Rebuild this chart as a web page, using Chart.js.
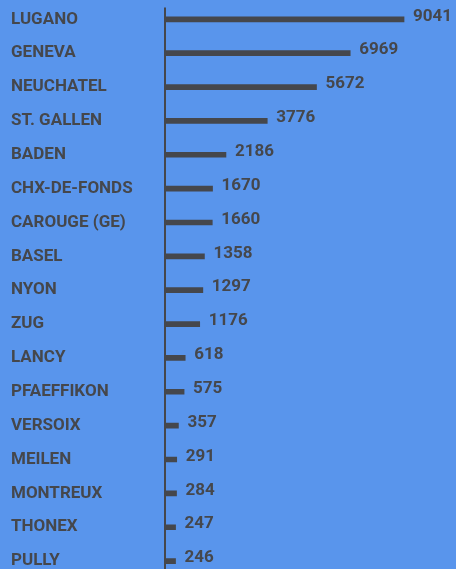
<!DOCTYPE html>
<html>
<head>
<meta charset="utf-8">
<script src="https://cdn.jsdelivr.net/npm/chart.js@4"></script>
<style>
  html, body { margin: 0; padding: 0; background: #5995EC; overflow: hidden; }
  #wrap { position: relative; width: 456px; height: 578px; }
</style>
</head>
<body>
<div id="wrap"><canvas id="c"></canvas></div>
<script>
const categories = ["LUGANO","GENEVA","NEUCHATEL","ST. GALLEN","BADEN","CHX-DE-FONDS","CAROUGE (GE)","BASEL","NYON","ZUG","LANCY","PFAEFFIKON","VERSOIX","MEILEN","MONTREUX","THONEX","PULLY"];
const values = [9041,6969,5672,3776,2186,1670,1660,1358,1297,1176,618,575,357,291,284,247,246];

const INK = '#45474c';
const FONT = 'Roboto, "Liberation Sans", sans-serif';

const axisLine = {
  id: 'axisLine',
  afterDatasetsDraw(chart) {
    const ctx = chart.ctx, a = chart.chartArea;
    ctx.save();
    ctx.strokeStyle = INK;
    ctx.lineWidth = 2;
    ctx.beginPath();
    ctx.moveTo(a.left, a.top + 5);
    ctx.lineTo(a.left, a.bottom);
    ctx.stroke();
    ctx.restore();
  }
};

const valueLabels = {
  id: 'valueLabels',
  afterDatasetsDraw(chart) {
    const ctx = chart.ctx;
    const meta = chart.getDatasetMeta(0);
    ctx.save();
    ctx.fillStyle = INK;
    ctx.font = 'bold 17px ' + FONT;
    ctx.textAlign = 'left';
    ctx.textBaseline = 'middle';
    meta.data.forEach((bar, i) => {
      ctx.fillText(String(values[i]), bar.x + 9, bar.y - 3);
    });
    ctx.restore();
  }
};

new Chart(document.getElementById('c'), {
  type: 'bar',
  data: {
    labels: categories,
    datasets: [{
      data: values,
      base: -160,
      backgroundColor: INK,
      borderWidth: 0,
      barThickness: 5
    }]
  },
  options: {
    indexAxis: 'y',
    responsive: true,
    maintainAspectRatio: false,
    animation: false,
    layout: { padding: { left: 11, top: 2.4, right: 0, bottom: 0 } },
    plugins: { legend: { display: false }, tooltip: { enabled: false } },
    scales: {
      x: { display: false, min: -160, max: 11041 },
      y: {
        afterFit(s) { s.width = 154; s.paddingTop = 0; s.paddingBottom = 0; },
        grid: { display: false, drawTicks: false },
        border: { display: false },
        ticks: {
          crossAlign: 'far',
          padding: 0,
          color: INK,
          font: { family: FONT, size: 17, weight: 'bold' }
        }
      }
    }
  },
  plugins: [axisLine, valueLabels]
});
</script>
</body>
</html>
